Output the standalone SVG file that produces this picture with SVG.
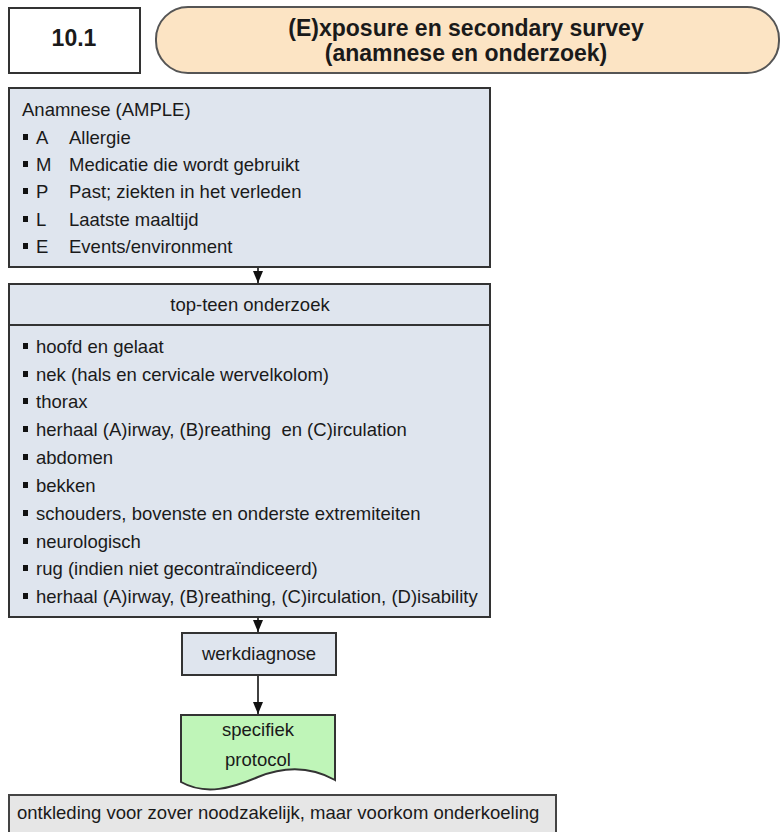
<svg xmlns="http://www.w3.org/2000/svg" width="782" height="832" viewBox="0 0 782 832">
  <style>
    .t { font-family: "Liberation Sans", Arial, sans-serif; font-size: 18.5px; fill: #1a1a1a; white-space: pre; }
    .c { text-anchor: middle; }
    .b { font-weight: bold; }
    .box { fill: #dfe5ee; stroke: #333; stroke-width: 2; }
    .bul { fill: #111; }
    .conn { stroke: #111; stroke-width: 1.6; fill: none; }
  </style>
  <defs>
    <marker id="arrow" viewBox="0 0 12 10" refX="12" refY="5" markerWidth="12" markerHeight="11" markerUnits="userSpaceOnUse" orient="auto">
      <path d="M0,0 L12,5 L0,10 Z" fill="#111"/>
    </marker>
  </defs>
  <rect width="782" height="832" fill="#ffffff"/>

  <!-- chapter number -->
  <g id="chapter">
    <rect x="9" y="8" width="131" height="65" fill="#ffffff" stroke="#333" stroke-width="2"/>
    <text class="t b c" x="74" y="46" style="font-size:23px">10.1</text>
  </g>

  <!-- title -->
  <g id="title">
    <rect x="156" y="7" width="623" height="66" rx="32" ry="32" fill="#fce4c4" stroke="#555" stroke-width="2"/>
    <text class="t b c" x="466" y="36" style="font-size:23px">(E)xposure en secondary survey</text>
    <text class="t b c" x="466" y="61" style="font-size:23px">(anamnese en onderzoek)</text>
  </g>

  <!-- history taking -->
  <g id="anamnese">
    <rect class="box" x="9" y="88" width="481" height="179"/>
    <text class="t" x="22" y="116">Anamnese (AMPLE)</text>
    <rect class="bul" x="23" y="134" width="5" height="6"/>
    <text class="t" x="36" y="144">A</text><text class="t" x="69" y="144">Allergie</text>
    <rect class="bul" x="23" y="161" width="5" height="6"/>
    <text class="t" x="36" y="171">M</text><text class="t" x="69" y="171">Medicatie die wordt gebruikt</text>
    <rect class="bul" x="23" y="188" width="5" height="6"/>
    <text class="t" x="36" y="198">P</text><text class="t" x="69" y="198">Past; ziekten in het verleden</text>
    <rect class="bul" x="23" y="216" width="5" height="6"/>
    <text class="t" x="36" y="226">L</text><text class="t" x="69" y="226">Laatste maaltijd</text>
    <rect class="bul" x="23" y="243" width="5" height="6"/>
    <text class="t" x="36" y="253">E</text><text class="t" x="69" y="253">Events/environment</text>
  </g>

  <!-- head-to-toe examination -->
  <g id="onderzoek">
    <rect class="box" x="9" y="284" width="481" height="333"/>
    <line x1="9" y1="325" x2="490" y2="325" stroke="#333" stroke-width="2"/>
    <text class="t c" x="250" y="311">top-teen onderzoek</text>
    <g>
      <rect class="bul" x="23" y="343" width="5" height="6"/><text class="t" x="36" y="353">hoofd en gelaat</text>
      <rect class="bul" x="23" y="371" width="5" height="6"/><text class="t" x="36" y="381">nek (hals en cervicale wervelkolom)</text>
      <rect class="bul" x="23" y="398" width="5" height="6"/><text class="t" x="36" y="408">thorax</text>
      <rect class="bul" x="23" y="426" width="5" height="6"/><text class="t" x="36" y="436">herhaal (A)irway, (B)reathing  en (C)irculation</text>
      <rect class="bul" x="23" y="454" width="5" height="6"/><text class="t" x="36" y="464">abdomen</text>
      <rect class="bul" x="23" y="482" width="5" height="6"/><text class="t" x="36" y="492">bekken</text>
      <rect class="bul" x="23" y="510" width="5" height="6"/><text class="t" x="36" y="520">schouders, bovenste en onderste extremiteiten</text>
      <rect class="bul" x="23" y="538" width="5" height="6"/><text class="t" x="36" y="548">neurologisch</text>
      <rect class="bul" x="23" y="565" width="5" height="6"/><text class="t" x="36" y="575">rug (indien niet gecontraïndiceerd)</text>
      <rect class="bul" x="23" y="593" width="5" height="6"/><text class="t" x="36" y="603">herhaal (A)irway, (B)reathing, (C)irculation, (D)isability</text>
    </g>
  </g>

  <!-- working diagnosis -->
  <g id="werkdiagnose">
    <rect class="box" x="182" y="633" width="154" height="42"/>
    <text class="t c" x="259" y="660">werkdiagnose</text>
  </g>

  <!-- specific protocol (document shape) -->
  <g id="protocol">
    <path d="M181,715 L335,715 L335,780 C310,766 285,766 258,777 C232,788 206,796 181,782 Z" fill="#bff5b8" stroke="#333" stroke-width="2"/>
    <text class="t c" x="258" y="736">specifiek</text>
    <text class="t c" x="258" y="766">protocol</text>
  </g>

  <!-- note -->
  <g id="opmerking">
    <rect x="9" y="795" width="547" height="50" fill="#e6e6e6" stroke="#444" stroke-width="2"/>
    <text class="t" x="17" y="819">ontkleding voor zover noodzakelijk, maar voorkom onderkoeling</text>
  </g>

  <!-- connectors -->
  <g id="connectors">
    <line class="conn" x1="258" y1="268" x2="258" y2="283" marker-end="url(#arrow)"/>
    <line class="conn" x1="258" y1="618" x2="258" y2="632" marker-end="url(#arrow)"/>
    <line class="conn" x1="258" y1="676" x2="258" y2="714" marker-end="url(#arrow)"/>
  </g>
</svg>
